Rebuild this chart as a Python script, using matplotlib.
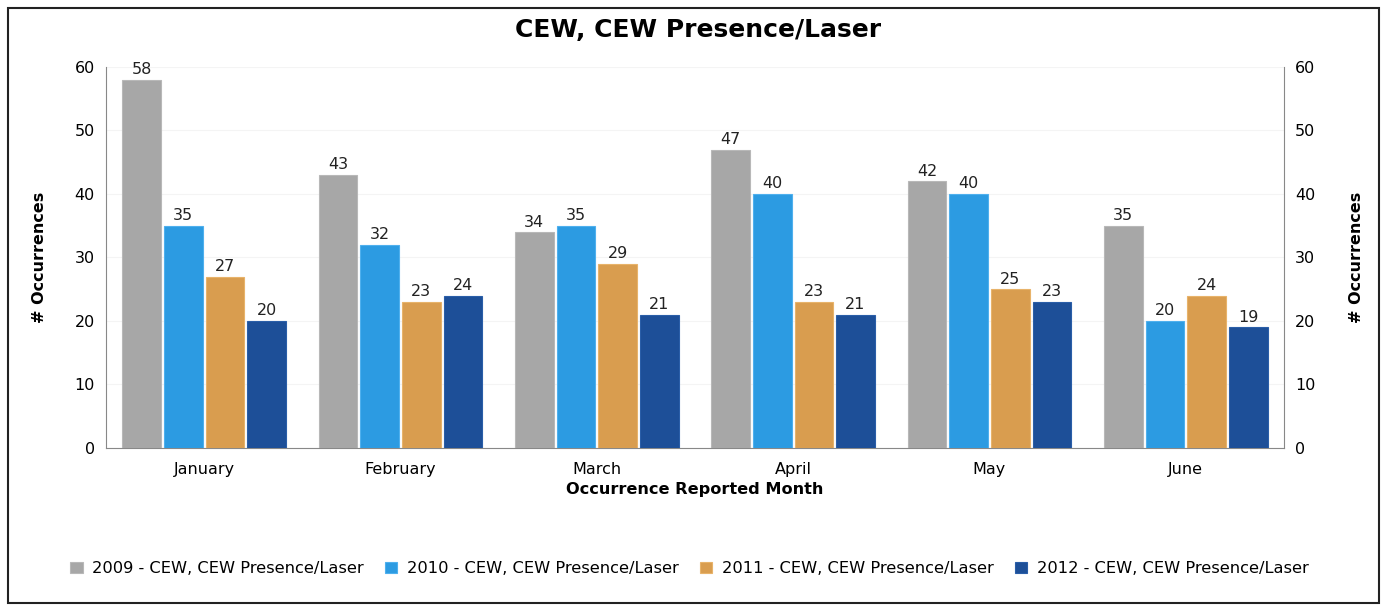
import matplotlib
matplotlib.use("Agg")
import matplotlib.pyplot as plt
import numpy as np
from matplotlib.patches import Rectangle

months = ["January", "February", "March", "April", "May", "June"]
series_names = ["2009 - CEW, CEW Presence/Laser", "2010 - CEW, CEW Presence/Laser",
                "2011 - CEW, CEW Presence/Laser", "2012 - CEW, CEW Presence/Laser"]
v2009 = [58, 43, 34, 47, 42, 35]
v2010 = [35, 32, 35, 40, 40, 20]
v2011 = [27, 23, 29, 23, 25, 24]
v2012 = [20, 24, 21, 21, 23, 19]
colors = ["#a7a7a7", "#2c9be2", "#d99d4f", "#1d4f98"]
edges = ["#b8b8b8", "#4fb0ee", "#e8b36a", "#2a5ea8"]

plt.rcParams['font.family'] = ['DejaVu Sans']

fig = plt.figure(figsize=(13.87, 6.05), dpi=100)
ax = fig.add_axes([0.0764, 0.2595, 0.8493, 0.6298])

x = np.arange(len(months))
step = 0.212
width = 0.197
data = [v2009, v2010, v2011, v2012]
for i, (vals, c, ec, name) in enumerate(zip(data, colors, edges, series_names)):
    pos = x + (i - 1.5) * step
    ax.bar(pos, vals, width, color=c, edgecolor=ec, linewidth=0.8, label=name, zorder=3)
    for p, v in zip(pos, vals):
        ax.text(p, v + 0.4, str(v), ha="center", va="bottom", fontsize=11.5, color="#222222", zorder=4)

ax.set_xlim(-0.5, 5.5)
ax.set_ylim(0, 60)
ax.set_yticks(range(0, 61, 10))
ax.set_xticks(x)
ax.set_xticklabels(months, fontsize=11.5)
ax.tick_params(axis="y", labelsize=11.5, length=0, pad=8)
ax.tick_params(axis="x", length=0, pad=10)
ax.yaxis.grid(True, color="#f4f4f4", linewidth=0.8, zorder=0)
for s in ["top", "right"]:
    ax.spines[s].set_visible(False)
ax.spines["left"].set_color("#888888")
ax.spines["bottom"].set_color("#888888")
ax.set_ylabel("# Occurrences", fontsize=11.5, fontweight="bold", labelpad=20)
ax.set_xlabel("Occurrence Reported Month", fontsize=11.6, fontweight="bold", labelpad=4)

ax2 = ax.twinx()
ax2.set_ylim(0, 60)
ax2.set_yticks(range(0, 61, 10))
ax2.tick_params(axis="y", labelsize=11.5, length=0, pad=8)
for s in ["top", "left", "bottom"]:
    ax2.spines[s].set_visible(False)
ax2.spines["right"].set_color("#888888")
ax2.set_ylabel("# Occurrences", fontsize=11.5, fontweight="bold", labelpad=24, rotation=90)

fig.text(0.503, 0.95, "CEW, CEW Presence/Laser", ha="center", va="center",
         fontsize=18, fontweight="bold")

handles, labels = ax.get_legend_handles_labels()
fig.legend(handles, labels, loc="center", bbox_to_anchor=(0.497, 0.06), ncol=4,
           frameon=False, fontsize=11.7, handlelength=0.75, handleheight=0.75,
           handletextpad=0.6, columnspacing=1.3)

fig.patches.append(Rectangle((0.006, 0.004), 0.988, 0.983, transform=fig.transFigure,
                             fill=False, edgecolor="#222222", linewidth=1.5))

fig.savefig("out.png", dpi=100)
